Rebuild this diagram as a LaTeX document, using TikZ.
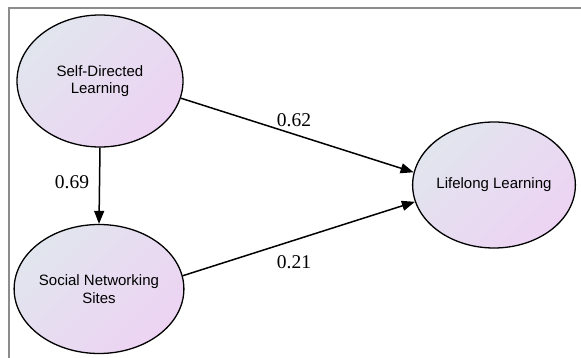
\documentclass[tikz,border=0pt]{standalone}
\usepackage{fontspec}
\setmainfont{Liberation Serif}
\setsansfont{Liberation Sans}
\usetikzlibrary{arrows.meta,shapes.geometric}
\definecolor{shadeA}{HTML}{E1E5EE}
\definecolor{shadeB}{HTML}{EDD3F3}
\definecolor{framegray}{HTML}{8C8C8C}
\tikzset{
  latent/.style={ellipse, draw=black, line width=1.3pt, top color=shadeA, bottom color=shadeB, shading angle=45,
    inner sep=0pt, align=center, font=\sffamily\fontsize{15}{17.5}\selectfont},
  path/.style={draw=black, line width=1.5pt, -{Triangle[length=13pt,width=10pt]}},
  coef/.style={font=\fontsize{19.5}{21}\selectfont, text=black}
}
\begin{document}
\begin{tikzpicture}[x=1pt,y=-1pt]
\useasboundingbox (0,0) rectangle (581,358);
\fill[white] (0,0) rectangle (581,358);
\draw[framegray, line width=2pt] (9,358) -- (9,8) -- (581,8);
\node[latent, minimum width=166pt, minimum height=132pt] (sdl) at (100,81) {\raisebox{-3pt}{Self-Directed}\\\raisebox{-3pt}{Learning}};
\node[latent, minimum width=166pt, minimum height=129pt] (sns) at (99,289) {\raisebox{-3pt}{Social Networking}\\\raisebox{-3pt}{Sites}};
\node[latent, minimum width=162pt, minimum height=126pt] (ll) at (494,185) {\raisebox{-3pt}{Lifelong Learning}};
\draw[path] (sdl.south) -- (sns.north);
\draw[path] (sdl.-12.7) -- (ll.171.6);
\draw[path] (sns.9.9) -- (ll.192.5);
\node[coef] (c1) at (294,120) {0.62};
\node[coef] (c2) at (72,182) {0.69};
\node[coef] (c3) at (294,262) {0.21};
\end{tikzpicture}
\end{document}
